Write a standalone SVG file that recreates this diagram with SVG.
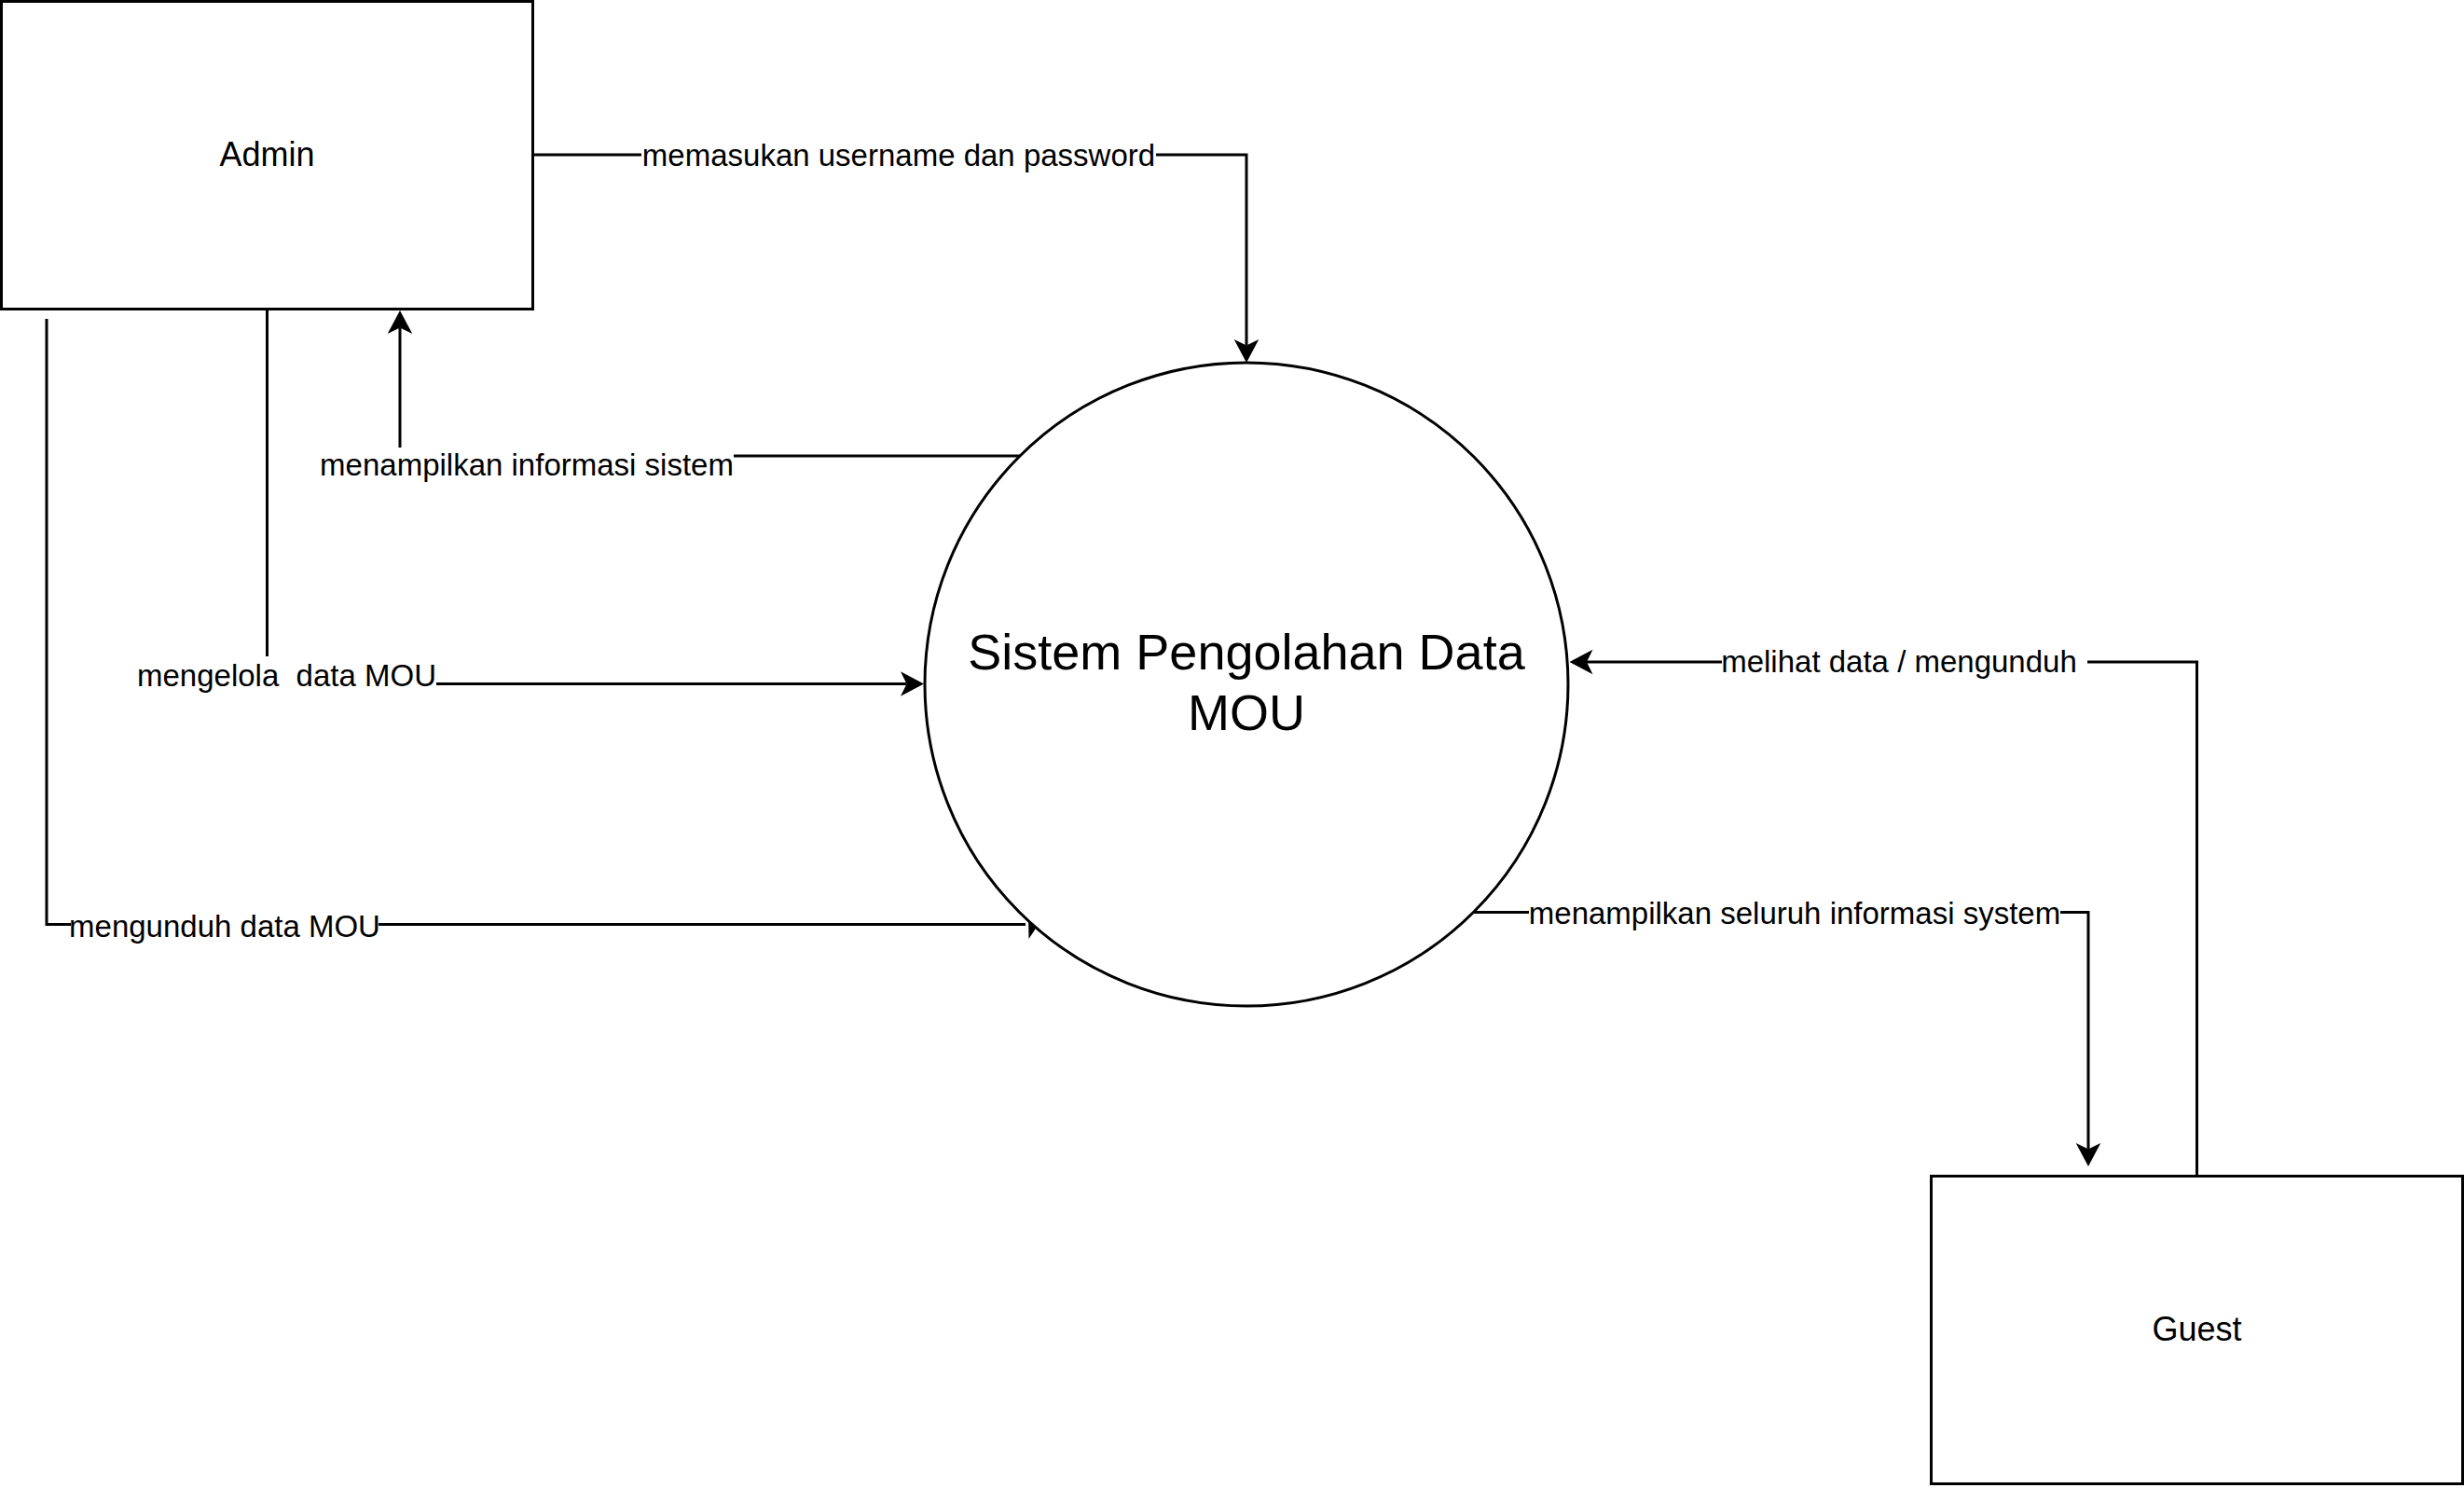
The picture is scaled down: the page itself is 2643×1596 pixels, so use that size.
<svg xmlns="http://www.w3.org/2000/svg" width="2643" height="1596" viewBox="0 0 2643 1596">
<style>
.ln{fill:none;stroke:#000;stroke-width:3}
.nd{fill:#fff;stroke:#000;stroke-width:3}
.bg{fill:#fff;stroke:none}
.lb{font-family:"Liberation Sans",Arial,sans-serif;font-size:33px;fill:#000;text-anchor:middle;white-space:pre}
.nt{font-family:"Liberation Sans",Arial,sans-serif;font-size:36px;fill:#000;text-anchor:middle}
.big{font-family:"Liberation Sans",Arial,sans-serif;font-size:54px;fill:#000;text-anchor:middle}
</style>
<defs>
<marker id="arr" markerUnits="userSpaceOnUse" viewBox="-8 -15 28 30" refX="0" refY="0" markerWidth="28" markerHeight="30" orient="auto" overflow="visible">
<path d="M18.5,0 L-6.5,-13.3 L0,0 L-6.5,13.3 Z" fill="#000"/>
</marker>
</defs>
<rect width="2643" height="1596" fill="#fff"/>
<g id="connectors">
<path class="ln" d="M571.5,166 H1337 V370.5" marker-end="url(#arr)"/>
<path class="ln" d="M1094,489 H429 V351.5" marker-end="url(#arr)"/>
<path class="ln" d="M286.5,331.5 V733.5 H972.5" marker-end="url(#arr)"/>
<path class="ln" d="M50,342 V991.5 H1100"/>
<path d="M1121,981 L1090.5,977 L1103.2,989.2 L1103.5,1007 Z" fill="#000"/>
<path class="ln" d="M1578,978.6 H2240 V1232.5" marker-end="url(#arr)"/>
<path class="ln" d="M2356.5,1261.5 V710 H1702" marker-end="url(#arr)"/>
<g id="label-login">
<rect class="bg" x="688" y="148" width="552" height="38"/>
<text class="lb" x="964" y="178">memasukan username dan password</text>
</g>
<g id="label-info">
<rect class="bg" x="343" y="480" width="444" height="38"/>
<text class="lb" x="565" y="509.5">menampilkan informasi sistem</text>
</g>
<g id="label-kelola">
<rect class="bg" x="147" y="704" width="321" height="42"/>
<text class="lb" x="307.5" y="736" xml:space="preserve">mengelola  data MOU</text>
</g>
<g id="label-unduh">
<rect class="bg" x="76" y="972" width="330" height="42"/>
<text class="lb" x="241" y="1005">mengunduh data MOU</text>
</g>
<g id="label-lihat">
<rect class="bg" x="1847" y="690" width="392" height="40"/>
<text class="lb" x="2037" y="721">melihat data / mengunduh</text>
</g>
<g id="label-seluruh">
<rect class="bg" x="1640" y="960" width="570" height="38"/>
<text class="lb" x="1925" y="991">menampilkan seluruh informasi system</text>
</g>
</g>
<g id="admin">
<rect class="nd" x="1.5" y="1.5" width="570" height="330"/>
<text class="nt" x="286.5" y="177.5">Admin</text>
</g>
<g id="guest">
<rect class="nd" x="2071.5" y="1261.5" width="570" height="330"/>
<text class="nt" x="2356.5" y="1437.5">Guest</text>
</g>
<g id="sistem">
<circle class="nd" cx="1337" cy="734" r="345"/>
<text class="big" x="1337" y="718">Sistem Pengolahan Data</text>
<text class="big" x="1337" y="783">MOU</text>
</g>
</svg>
